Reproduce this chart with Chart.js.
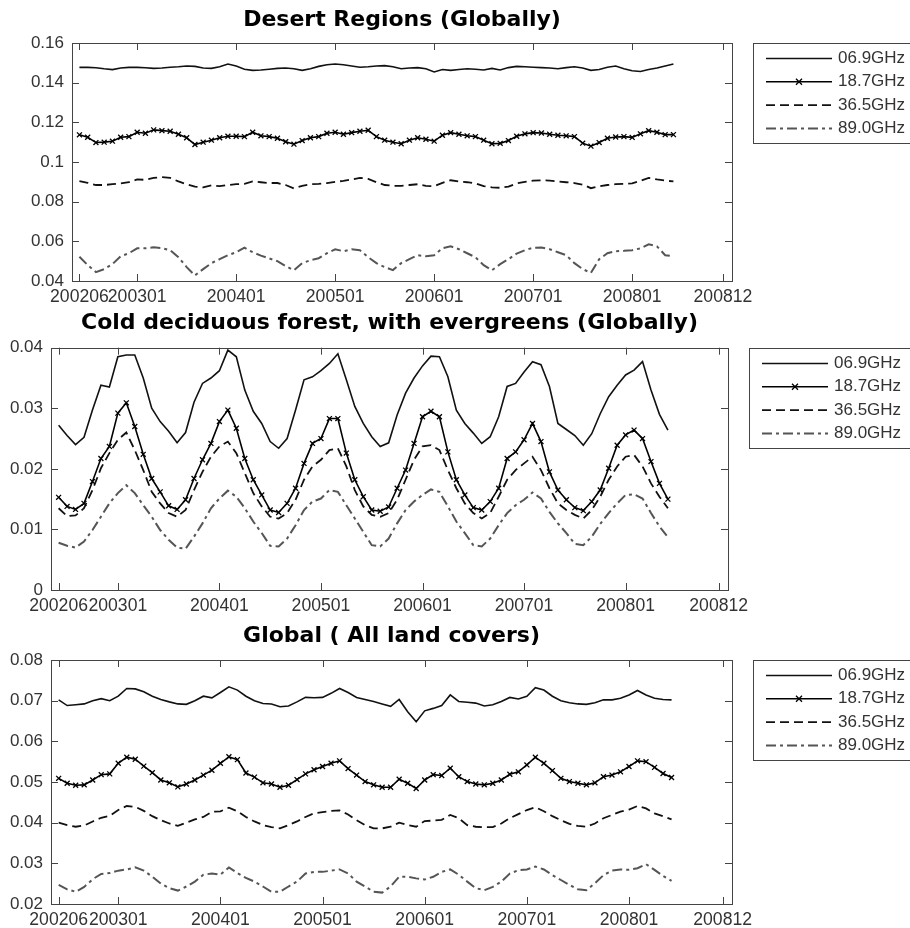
<!DOCTYPE html>
<html>
<head>
<meta charset="utf-8">
<script src="https://cdn.jsdelivr.net/npm/chart.js@4.4.1/dist/chart.umd.min.js"></script>
<style>
body { margin: 0; background: #fff; width: 910px; height: 928px; overflow: hidden; position: relative; }
canvas { position: absolute; left: 0; }
</style>
</head>
<body>
<canvas id="desert" width="910" height="305" style="top:0px"></canvas>
<canvas id="forest" width="910" height="310" style="top:305px"></canvas>
<canvas id="globalAll" width="910" height="313" style="top:615px"></canvas>
<script>
// monthly means, 200206 .. 200806
var firstMonth = '200206', lastMonth = '200806';
var xTickLabels = ['200206', '200301', '200401', '200501', '200601', '200701', '200801', '200812'];
var bands = ['06.9GHz', '18.7GHz', '36.5GHz', '89.0GHz'];

var desert069 = [.1477,.1477,.1475,.1470,.1466,.1474,.1477,.1477,.1475,.1472,
.1474,.1478,.1480,.1484,.1482,.1474,.1472,.1480,.1494,.1484,
.1468,.1462,.1464,.1468,.1472,.1474,.1470,.1462,.1470,.1482,
.1490,.1494,.1490,.1484,.1478,.1480,.1484,.1486,.1480,.1470,
.1474,.1476,.1470,.1454,.1466,.1462,.1466,.1470,.1468,.1464,
.1472,.1464,.1476,.1482,.1480,.1478,.1476,.1474,.1470,.1476,
.1480,.1474,.1462,.1466,.1478,.1484,.1470,.1460,.1456,.1466,
.1474,.1484,.1494];
var desert187 = [.1137,.1125,.1098,.1100,.1105,.1125,.1128,.1150,.1145,.1162,
.1158,.1155,.1140,.1122,.1088,.1100,.1110,.1122,.1130,.1130,
.1128,.1150,.1132,.1128,.1120,.1102,.1090,.1108,.1122,.1128,
.1145,.1150,.1140,.1148,.1155,.1160,.1128,.1110,.1100,.1092,
.1110,.1122,.1115,.1105,.1135,.1148,.1140,.1132,.1128,.1110,
.1092,.1094,.1108,.1130,.1142,.1148,.1146,.1140,.1135,.1132,
.1128,.1095,.1080,.1098,.1120,.1126,.1128,.1124,.1142,.1158,
.1150,.1138,.1138];
var desert365 = [.0903,.0895,.0884,.0884,.0888,.0892,.0898,.0912,.0910,.0920,
.0924,.0920,.0902,.0888,.0876,.0872,.0882,.0878,.0884,.0888,
.0890,.0902,.0898,.0894,.0894,.0884,.0867,.0880,.0888,.0890,
.0894,.0900,.0905,.0912,.0920,.0915,.0898,.0884,.0880,.0880,
.0884,.0888,.0880,.0878,.0895,.0908,.0902,.0898,.0892,.0878,
.0872,.0870,.0876,.0892,.0900,.0906,.0908,.0906,.0902,.0898,
.0894,.0886,.0868,.0878,.0884,.0888,.0890,.0892,.0905,.0920,
.0912,.0906,.0902];
var desert890 = [.0522,.0480,.0445,.0460,.0485,.0525,.0540,.0565,.0565,.0570,
.0566,.0555,.0520,.0470,.0428,.0460,.0490,.0510,.0530,.0545,
.0568,.0545,.0528,.0514,.0500,.0475,.0454,.0490,.0505,.0515,
.0540,.0560,.0550,.0560,.0555,.0520,.0490,.0470,.0455,.0490,
.0510,.0530,.0525,.0530,.0565,.0575,.0560,.0540,.0520,.0480,
.0454,.0485,.0510,.0538,.0555,.0568,.0569,.0560,.0545,.0530,
.0490,.0460,.0441,.0510,.0540,.0550,.0552,.0555,.0565,.0585,
.0575,.0530,.0525];

var forest069 = [.0272,.0255,.0240,.0252,.0297,.0338,.0335,.0385,.0388,.0388,
.0350,.0300,.0278,.0262,.0243,.0260,.0310,.0341,.0350,.0362,
.0396,.0385,.0330,.0295,.0275,.0245,.0234,.0250,.0297,.0347,
.0352,.0362,.0374,.0390,.0347,.0303,.0275,.0253,.0237,.0243,
.0289,.0325,.0350,.0370,.0386,.0385,.0352,.0297,.0275,.0259,
.0242,.0253,.0286,.0336,.0341,.0360,.0377,.0372,.0336,.0275,
.0265,.0255,.0239,.0258,.0291,.0319,.0338,.0355,.0363,.0377,
.0330,.0290,.0264];
var forest187 = [.0153,.0138,.0133,.0143,.0179,.0217,.0237,.0292,.0309,.0270,
.0224,.0184,.0162,.0139,.0133,.0149,.0184,.0215,.0242,.0278,
.0297,.0267,.0217,.0182,.0157,.0132,.0128,.0143,.0168,.0209,
.0242,.0250,.0283,.0283,.0226,.0182,.0154,.0132,.0130,.0137,
.0168,.0198,.0242,.0286,.0295,.0286,.0228,.0182,.0157,.0136,
.0132,.0146,.0168,.0217,.0228,.0248,.0275,.0245,.0195,.0165,
.0149,.0136,.0131,.0146,.0165,.0201,.0239,.0256,.0264,.0250,
.0212,.0176,.0150];
var forest365 = [.0135,.0122,.0123,.0135,.0165,.0201,.0226,.0248,.0260,.0231,
.0198,.0162,.0143,.0127,.0121,.0132,.0165,.0195,.0220,.0237,
.0245,.0226,.0193,.0160,.0138,.0121,.0118,.0127,.0149,.0182,
.0204,.0215,.0231,.0234,.0204,.0165,.0138,.0124,.0121,.0127,
.0149,.0182,.0215,.0237,.0239,.0231,.0198,.0168,.0143,.0127,
.0118,.0127,.0154,.0182,.0198,.0209,.0220,.0198,.0168,.0143,
.0132,.0124,.0118,.0132,.0154,.0182,.0204,.0220,.0223,.0204,
.0176,.0154,.0135];
var forest890 = [.0078,.0073,.0070,.0080,.0099,.0121,.0143,.0160,.0173,.0160,
.0140,.0121,.0099,.0083,.0070,.0068,.0088,.0110,.0135,.0151,
.0164,.0154,.0135,.0113,.0094,.0073,.0072,.0085,.0107,.0132,
.0146,.0151,.0165,.0162,.0140,.0118,.0096,.0074,.0072,.0085,
.0110,.0132,.0146,.0157,.0166,.0162,.0138,.0113,.0094,.0074,
.0072,.0085,.0107,.0127,.0140,.0149,.0161,.0151,.0129,.0110,
.0094,.0076,.0074,.0088,.0109,.0127,.0143,.0157,.0158,.0151,
.0127,.0105,.0087];

var global069 = [.0702,.0688,.0690,.0692,.0700,.0705,.0700,.0711,.0730,.0729,
.0722,.0711,.0703,.0697,.0692,.0691,.0700,.0711,.0707,.0720,
.0734,.0726,.0711,.0700,.0693,.0692,.0685,.0687,.0697,.0708,
.0707,.0708,.0718,.0730,.0720,.0708,.0703,.0698,.0692,.0686,
.0703,.0673,.0648,.0675,.0681,.0688,.0714,.0698,.0696,.0694,
.0687,.0690,.0698,.0708,.0704,.0711,.0732,.0726,.0711,.0700,
.0695,.0692,.0691,.0695,.0702,.0702,.0706,.0714,.0725,.0714,
.0706,.0703,.0702];
var global187 = [.0509,.0497,.0492,.0493,.0505,.0518,.0520,.0546,.0561,.0556,
.0539,.0523,.0505,.0498,.0488,.0495,.0505,.0517,.0529,.0546,
.0562,.0555,.0522,.0512,.0498,.0495,.0487,.0492,.0506,.0520,
.0530,.0538,.0546,.0552,.0533,.0517,.0501,.0493,.0487,.0487,
.0507,.0497,.0484,.0505,.0518,.0516,.0534,.0513,.0501,.0495,
.0493,.0497,.0505,.0519,.0525,.0542,.0561,.0546,.0528,.0509,
.0501,.0497,.0493,.0498,.0513,.0517,.0525,.0538,.0552,.0550,
.0536,.0521,.0511];
var global365 = [.0400,.0394,.0390,.0393,.0403,.0412,.0417,.0431,.0441,.0439,
.0429,.0416,.0406,.0398,.0392,.0400,.0408,.0414,.0427,.0428,
.0437,.0428,.0414,.0403,.0394,.0389,.0386,.0394,.0403,.0414,
.0423,.0426,.0429,.0430,.0420,.0406,.0394,.0386,.0386,.0390,
.0400,.0394,.0390,.0404,.0405,.0407,.0419,.0411,.0394,.0390,
.0389,.0389,.0398,.0411,.0421,.0431,.0438,.0428,.0416,.0406,
.0397,.0392,.0390,.0398,.0411,.0419,.0427,.0432,.0441,.0435,
.0423,.0416,.0408];
var global890 = [.0247,.0236,.0230,.0242,.0261,.0274,.0276,.0282,.0285,.0290,
.0282,.0267,.0250,.0239,.0233,.0243,.0255,.0272,.0275,.0272,
.0290,.0276,.0264,.0255,.0243,.0230,.0230,.0243,.0255,.0275,
.0279,.0279,.0282,.0285,.0275,.0255,.0243,.0230,.0228,.0243,
.0267,.0267,.0263,.0260,.0267,.0279,.0285,.0272,.0255,.0239,
.0234,.0242,.0255,.0275,.0283,.0285,.0292,.0285,.0271,.0259,
.0247,.0236,.0234,.0251,.0271,.0282,.0285,.0284,.0288,.0298,
.0284,.0269,.0257];

// months counted from the first one
function monthIndex(s) {
  return (parseInt(s.slice(0, 4), 10) - parseInt(firstMonth.slice(0, 4), 10)) * 12 +
    parseInt(s.slice(4), 10) - parseInt(firstMonth.slice(4), 10);
}
var monthPos = [];
for (var i = 0; i <= monthIndex(lastMonth); i++) monthPos.push(i);
var xTickPos = xTickLabels.map(monthIndex);

var bandStyle = [
  { borderColor: '#111', borderWidth: 1.6, borderDash: [], pointRadius: 0 },
  { borderColor: '#000', borderWidth: 1.6, borderDash: [], pointStyle: 'crossRot', pointRadius: 3.5, pointBorderWidth: 1.3, pointBorderColor: '#000' },
  { borderColor: '#111', borderWidth: 1.8, borderDash: [9, 5], pointRadius: 0 },
  { borderColor: '#555', borderWidth: 2, borderDash: [10, 4, 3, 4], pointRadius: 0 }
];

// box, inward tick marks and the legend, drawn the MATLAB way
var framePlugin = {
  id: 'frame',
  afterDatasetsDraw: function(chart) {
    var ctx = chart.ctx, a = chart.chartArea;
    var xs = chart.scales.x, ys = chart.scales.y;
    ctx.save();
    ctx.strokeStyle = '#444';
    ctx.lineWidth = 1;
    ctx.setLineDash([]);
    ctx.strokeRect(Math.round(a.left) + 0.5, Math.round(a.top) + 0.5, Math.round(a.right - a.left), Math.round(a.bottom - a.top));
    ctx.beginPath();
    xs.ticks.forEach(function(t) {
      var px = Math.round(xs.getPixelForValue(t.value)) + 0.5;
      ctx.moveTo(px, a.bottom); ctx.lineTo(px, a.bottom - 7);
      ctx.moveTo(px, a.top); ctx.lineTo(px, a.top + 7);
    });
    ys.ticks.forEach(function(t) {
      var py = Math.round(ys.getPixelForValue(t.value)) + 0.5;
      ctx.moveTo(a.left, py); ctx.lineTo(a.left + 7, py);
      ctx.moveTo(a.right, py); ctx.lineTo(a.right - 7, py);
    });
    ctx.stroke();

    var lx = Math.round(a.right) + 21, ly = Math.round(a.top);
    ctx.strokeStyle = '#444';
    ctx.strokeRect(lx + 0.5, ly + 0.5, 170, 100);
    chart.data.datasets.forEach(function(ds, i) {
      var y = ly + 15.5 + i * 23.3;
      ctx.strokeStyle = ds.borderColor;
      ctx.lineWidth = ds.borderWidth;
      ctx.setLineDash(ds.borderDash || []);
      ctx.beginPath();
      ctx.moveTo(lx + 13, y);
      ctx.lineTo(lx + 79, y);
      ctx.stroke();
      ctx.setLineDash([]);
      if (ds.pointStyle === 'crossRot') {
        ctx.lineWidth = 1.3;
        ctx.beginPath();
        ctx.moveTo(lx + 43, y - 3); ctx.lineTo(lx + 49, y + 3);
        ctx.moveTo(lx + 49, y - 3); ctx.lineTo(lx + 43, y + 3);
        ctx.stroke();
      }
      ctx.fillStyle = '#333';
      ctx.font = '17px "Liberation Sans", Arial, sans-serif';
      ctx.textBaseline = 'middle';
      ctx.textAlign = 'left';
      ctx.fillText(ds.label, lx + 85, y);
    });
    ctx.restore();
  }
};

function makeConfig(title, series, yMin, yMax, yStep, area, canvasH, titlePad) {
  var datasets = series.map(function(values, i) {
    var ds = {
      label: bands[i],
      data: values,
      fill: false,
      tension: 0
    };
    for (var k in bandStyle[i]) ds[k] = bandStyle[i][k];
    return ds;
  });
  return {
    type: 'line',
    data: { labels: monthPos, datasets: datasets },
    plugins: [framePlugin],
    options: {
      responsive: false,
      animation: false,
      devicePixelRatio: 1,
      layout: { padding: { left: 0, top: 0, bottom: 0, right: 910 - area.right } },
      plugins: {
        legend: { display: false },
        tooltip: { enabled: false },
        title: {
          display: true,
          text: title,
          fullSize: false,
          color: '#000',
          font: { family: 'DejaVu Sans', size: 22, weight: 'bold', lineHeight: 1.2 },
          padding: titlePad
        }
      },
      scales: {
        x: {
          type: 'linear',
          min: -0.9,
          max: 79.1,
          grid: { display: false, drawTicks: false },
          border: { display: false },
          afterBuildTicks: function(scale) {
            scale.ticks = xTickPos.map(function(v) { return { value: v }; });
          },
          afterFit: function(scale) { scale.height = canvasH - area.bottom; },
          ticks: {
            autoSkip: false,
            maxRotation: 0,
            minRotation: 0,
            padding: 6,
            color: '#333',
            font: { family: 'Liberation Sans', size: 17.6 },
            callback: function(v) { return xTickLabels[xTickPos.indexOf(v)]; }
          }
        },
        y: {
          min: yMin,
          max: yMax,
          grid: { display: false, drawTicks: false },
          border: { display: false },
          afterFit: function(scale) { scale.width = area.left; },
          ticks: {
            stepSize: yStep,
            padding: 8,
            color: '#333',
            font: { family: 'Liberation Sans', size: 17 },
            callback: function(v) { return String(Number(v.toFixed(3))); }
          }
        }
      }
    }
  };
}

var desertConfig = makeConfig('Desert Regions (Globally)',
  [desert069, desert187, desert365, desert890], 0.04, 0.16, 0.02,
  { left: 72, right: 732, bottom: 281 }, 305, { top: 6.8, bottom: 9.8 });
var forestConfig = makeConfig('Cold deciduous forest, with evergreens (Globally)',
  [forest069, forest187, forest365, forest890], 0, 0.04, 0.01,
  { left: 51, right: 728, bottom: 285 }, 310, { top: 4.8, bottom: 11.5 });
var globalConfig = makeConfig('Global ( All land covers)',
  [global069, global187, global365, global890], 0.02, 0.08, 0.01,
  { left: 51, right: 732, bottom: 289 }, 313, { top: 7.8, bottom: 10.8 });

window.desertChart = new Chart(document.getElementById('desert').getContext('2d'), desertConfig);
window.forestChart = new Chart(document.getElementById('forest').getContext('2d'), forestConfig);
window.globalChart = new Chart(document.getElementById('globalAll').getContext('2d'), globalConfig);
</script>
</body>
</html>
